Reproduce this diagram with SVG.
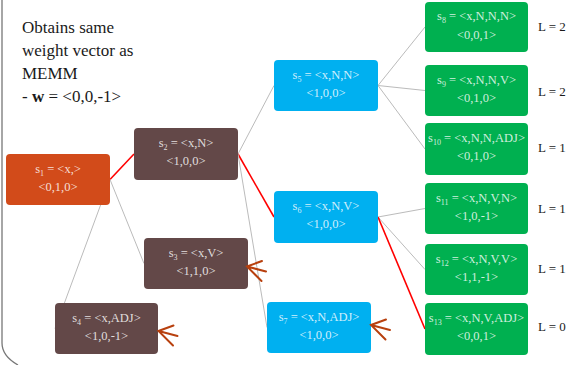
<svg xmlns="http://www.w3.org/2000/svg" xmlns:xlink="http://www.w3.org/1999/xlink" width="570" height="365" viewBox="0 0 570 365">
  <style>
    .t { font-family: "Liberation Serif", "Times New Roman", serif; font-size: 12.5px; fill: #ffffff; fill-opacity: 0.82; text-anchor: middle; }
    .sub { font-size: 8px; }
    .note { font-family: "Liberation Serif", "Times New Roman", serif; font-size: 17px; fill: #1a1a1a; }
    .lab { font-family: "Liberation Serif", "Times New Roman", serif; font-size: 13px; fill: #1a1a1a; }
    .orange { fill: #D24B1A; }
    .brown { fill: #634848; }
    .blue { fill: #00B0F0; }
    .green { fill: #00B050; }
    .edge { stroke: #BBBBBB; stroke-width: 1; fill: none; }
    .best { stroke: #FF0000; stroke-width: 1.6; fill: none; }
    .arr { stroke: #B8400E; stroke-width: 2; fill: none; stroke-linecap: round; }
  </style>
  <defs>
    <path id="arrowhead" class="arr" d="M15,-5.5 L0,0 L14.5,14.5 M0,0 L19,5"/>
  </defs>

  <rect width="570" height="365" fill="#ffffff"/>
  <!-- slide frame edge -->
  <path d="M2,0 L2,343 Q2,356 18,365" fill="none" stroke="#777777" stroke-width="1.3"/>

  <!-- explanatory note -->
  <text class="note" x="22" y="33">Obtains same</text>
  <text class="note" x="22" y="55.5">weight vector as</text>
  <text class="note" x="22" y="79">MEMM</text>
  <text class="note" x="22" y="101.5">- <tspan font-weight="bold">w</tspan> = &lt;0,0,-1&gt;</text>

  <!-- connectors (drawn beneath the states) -->
  <g id="connectors">
    <line class="best" x1="110" y1="179.5" x2="134" y2="154"/>
    <line class="edge" x1="110" y1="179.5" x2="144" y2="263.5"/>
    <line class="edge" x1="110" y1="179.5" x2="55" y2="328.5"/>
    <line class="edge" x1="238" y1="154" x2="274" y2="85.5"/>
    <line class="best" x1="238" y1="154" x2="274" y2="217"/>
    <line class="edge" x1="238" y1="154" x2="267" y2="327.5"/>
    <line class="edge" x1="378" y1="85.5" x2="425" y2="27"/>
    <line class="edge" x1="378" y1="85.5" x2="425" y2="90.5"/>
    <line class="edge" x1="378" y1="85.5" x2="425" y2="149"/>
    <line class="edge" x1="378" y1="217" x2="425" y2="208.5"/>
    <line class="edge" x1="378" y1="217" x2="425" y2="269.5"/>
    <line class="best" x1="378" y1="217" x2="425" y2="329"/>
  </g>

  <g id="s1">
    <rect class="orange" x="6" y="154" width="104" height="51" rx="4"/>
    <text class="t" x="58" y="172.5">s<tspan class="sub" dy="3">1</tspan><tspan dy="-3"> = &lt;x,&gt;</tspan></text>
    <text class="t" x="58" y="191">&lt;0,1,0&gt;</text>
  </g>
  <g id="s2">
    <rect class="brown" x="134" y="128" width="104" height="52" rx="4"/>
    <text class="t" x="186" y="146.5">s<tspan class="sub" dy="3">2</tspan><tspan dy="-3"> = &lt;x,N&gt;</tspan></text>
    <text class="t" x="186" y="165">&lt;1,0,0&gt;</text>
  </g>
  <g id="s3">
    <rect class="brown" x="144" y="238" width="104" height="51" rx="4"/>
    <text class="t" x="196" y="256.5">s<tspan class="sub" dy="3">3</tspan><tspan dy="-3"> = &lt;x,V&gt;</tspan></text>
    <text class="t" x="196" y="275">&lt;1,1,0&gt;</text>
  </g>
  <g id="s4">
    <rect class="brown" x="55" y="303" width="103" height="51" rx="4"/>
    <text class="t" x="106.5" y="321.5">s<tspan class="sub" dy="3">4</tspan><tspan dy="-3"> = &lt;x,ADJ&gt;</tspan></text>
    <text class="t" x="106.5" y="340">&lt;1,0,-1&gt;</text>
  </g>
  <g id="s5">
    <rect class="blue" x="274" y="60" width="104" height="51" rx="4"/>
    <text class="t" x="326" y="78.5">s<tspan class="sub" dy="3">5</tspan><tspan dy="-3"> = &lt;x,N,N&gt;</tspan></text>
    <text class="t" x="326" y="97">&lt;1,0,0&gt;</text>
  </g>
  <g id="s6">
    <rect class="blue" x="274" y="191" width="104" height="52" rx="4"/>
    <text class="t" x="326" y="209.5">s<tspan class="sub" dy="3">6</tspan><tspan dy="-3"> = &lt;x,N,V&gt;</tspan></text>
    <text class="t" x="326" y="228">&lt;1,0,0&gt;</text>
  </g>
  <g id="s7">
    <rect class="blue" x="267" y="302" width="104" height="51" rx="4"/>
    <text class="t" x="319" y="320.5">s<tspan class="sub" dy="3">7</tspan><tspan dy="-3"> = &lt;x,N,ADJ&gt;</tspan></text>
    <text class="t" x="319" y="339">&lt;1,0,0&gt;</text>
  </g>
  <g id="s8">
    <rect class="green" x="425" y="2" width="103" height="50" rx="4"/>
    <text class="t" x="476.5" y="20">s<tspan class="sub" dy="3">8</tspan><tspan dy="-3"> = &lt;x,N,N,N&gt;</tspan></text>
    <text class="t" x="476.5" y="38.5">&lt;0,0,1&gt;</text>
  </g>
  <g id="s9">
    <rect class="green" x="425" y="65" width="103" height="51" rx="4"/>
    <text class="t" x="476.5" y="83.5">s<tspan class="sub" dy="3">9</tspan><tspan dy="-3"> = &lt;x,N,N,V&gt;</tspan></text>
    <text class="t" x="476.5" y="102">&lt;0,1,0&gt;</text>
  </g>
  <g id="s10">
    <rect class="green" x="425" y="123" width="103" height="52" rx="4"/>
    <text class="t" x="476.5" y="141.5">s<tspan class="sub" dy="3">10</tspan><tspan dy="-3"> = &lt;x,N,N,ADJ&gt;</tspan></text>
    <text class="t" x="476.5" y="160">&lt;0,1,0&gt;</text>
  </g>
  <g id="s11">
    <rect class="green" x="425" y="183" width="103" height="51" rx="4"/>
    <text class="t" x="476.5" y="201.5">s<tspan class="sub" dy="3">11</tspan><tspan dy="-3"> = &lt;x,N,V,N&gt;</tspan></text>
    <text class="t" x="476.5" y="220">&lt;1,0,-1&gt;</text>
  </g>
  <g id="s12">
    <rect class="green" x="425" y="244" width="103" height="51" rx="4"/>
    <text class="t" x="476.5" y="262.5">s<tspan class="sub" dy="3">12</tspan><tspan dy="-3"> = &lt;x,N,V,V&gt;</tspan></text>
    <text class="t" x="476.5" y="281">&lt;1,1,-1&gt;</text>
  </g>
  <g id="s13">
    <rect class="green" x="425" y="303" width="103" height="52" rx="4"/>
    <text class="t" x="476.5" y="321.5">s<tspan class="sub" dy="3">13</tspan><tspan dy="-3"> = &lt;x,N,V,ADJ&gt;</tspan></text>
    <text class="t" x="476.5" y="340">&lt;0,0,1&gt;</text>
  </g>

  <!-- loss values of the leaf sequences -->
  <text class="lab" x="538" y="31">L = 2</text>
  <text class="lab" x="538" y="96">L = 2</text>
  <text class="lab" x="538" y="152">L = 1</text>
  <text class="lab" x="538" y="213">L = 1</text>
  <text class="lab" x="538" y="273">L = 1</text>
  <text class="lab" x="538" y="331">L = 0</text>

  <!-- pointers at the pruned states -->
  <use xlink:href="#arrowhead" x="247" y="266.5"/>
  <use xlink:href="#arrowhead" x="158.5" y="331"/>
  <use xlink:href="#arrowhead" x="371" y="325"/>
</svg>
